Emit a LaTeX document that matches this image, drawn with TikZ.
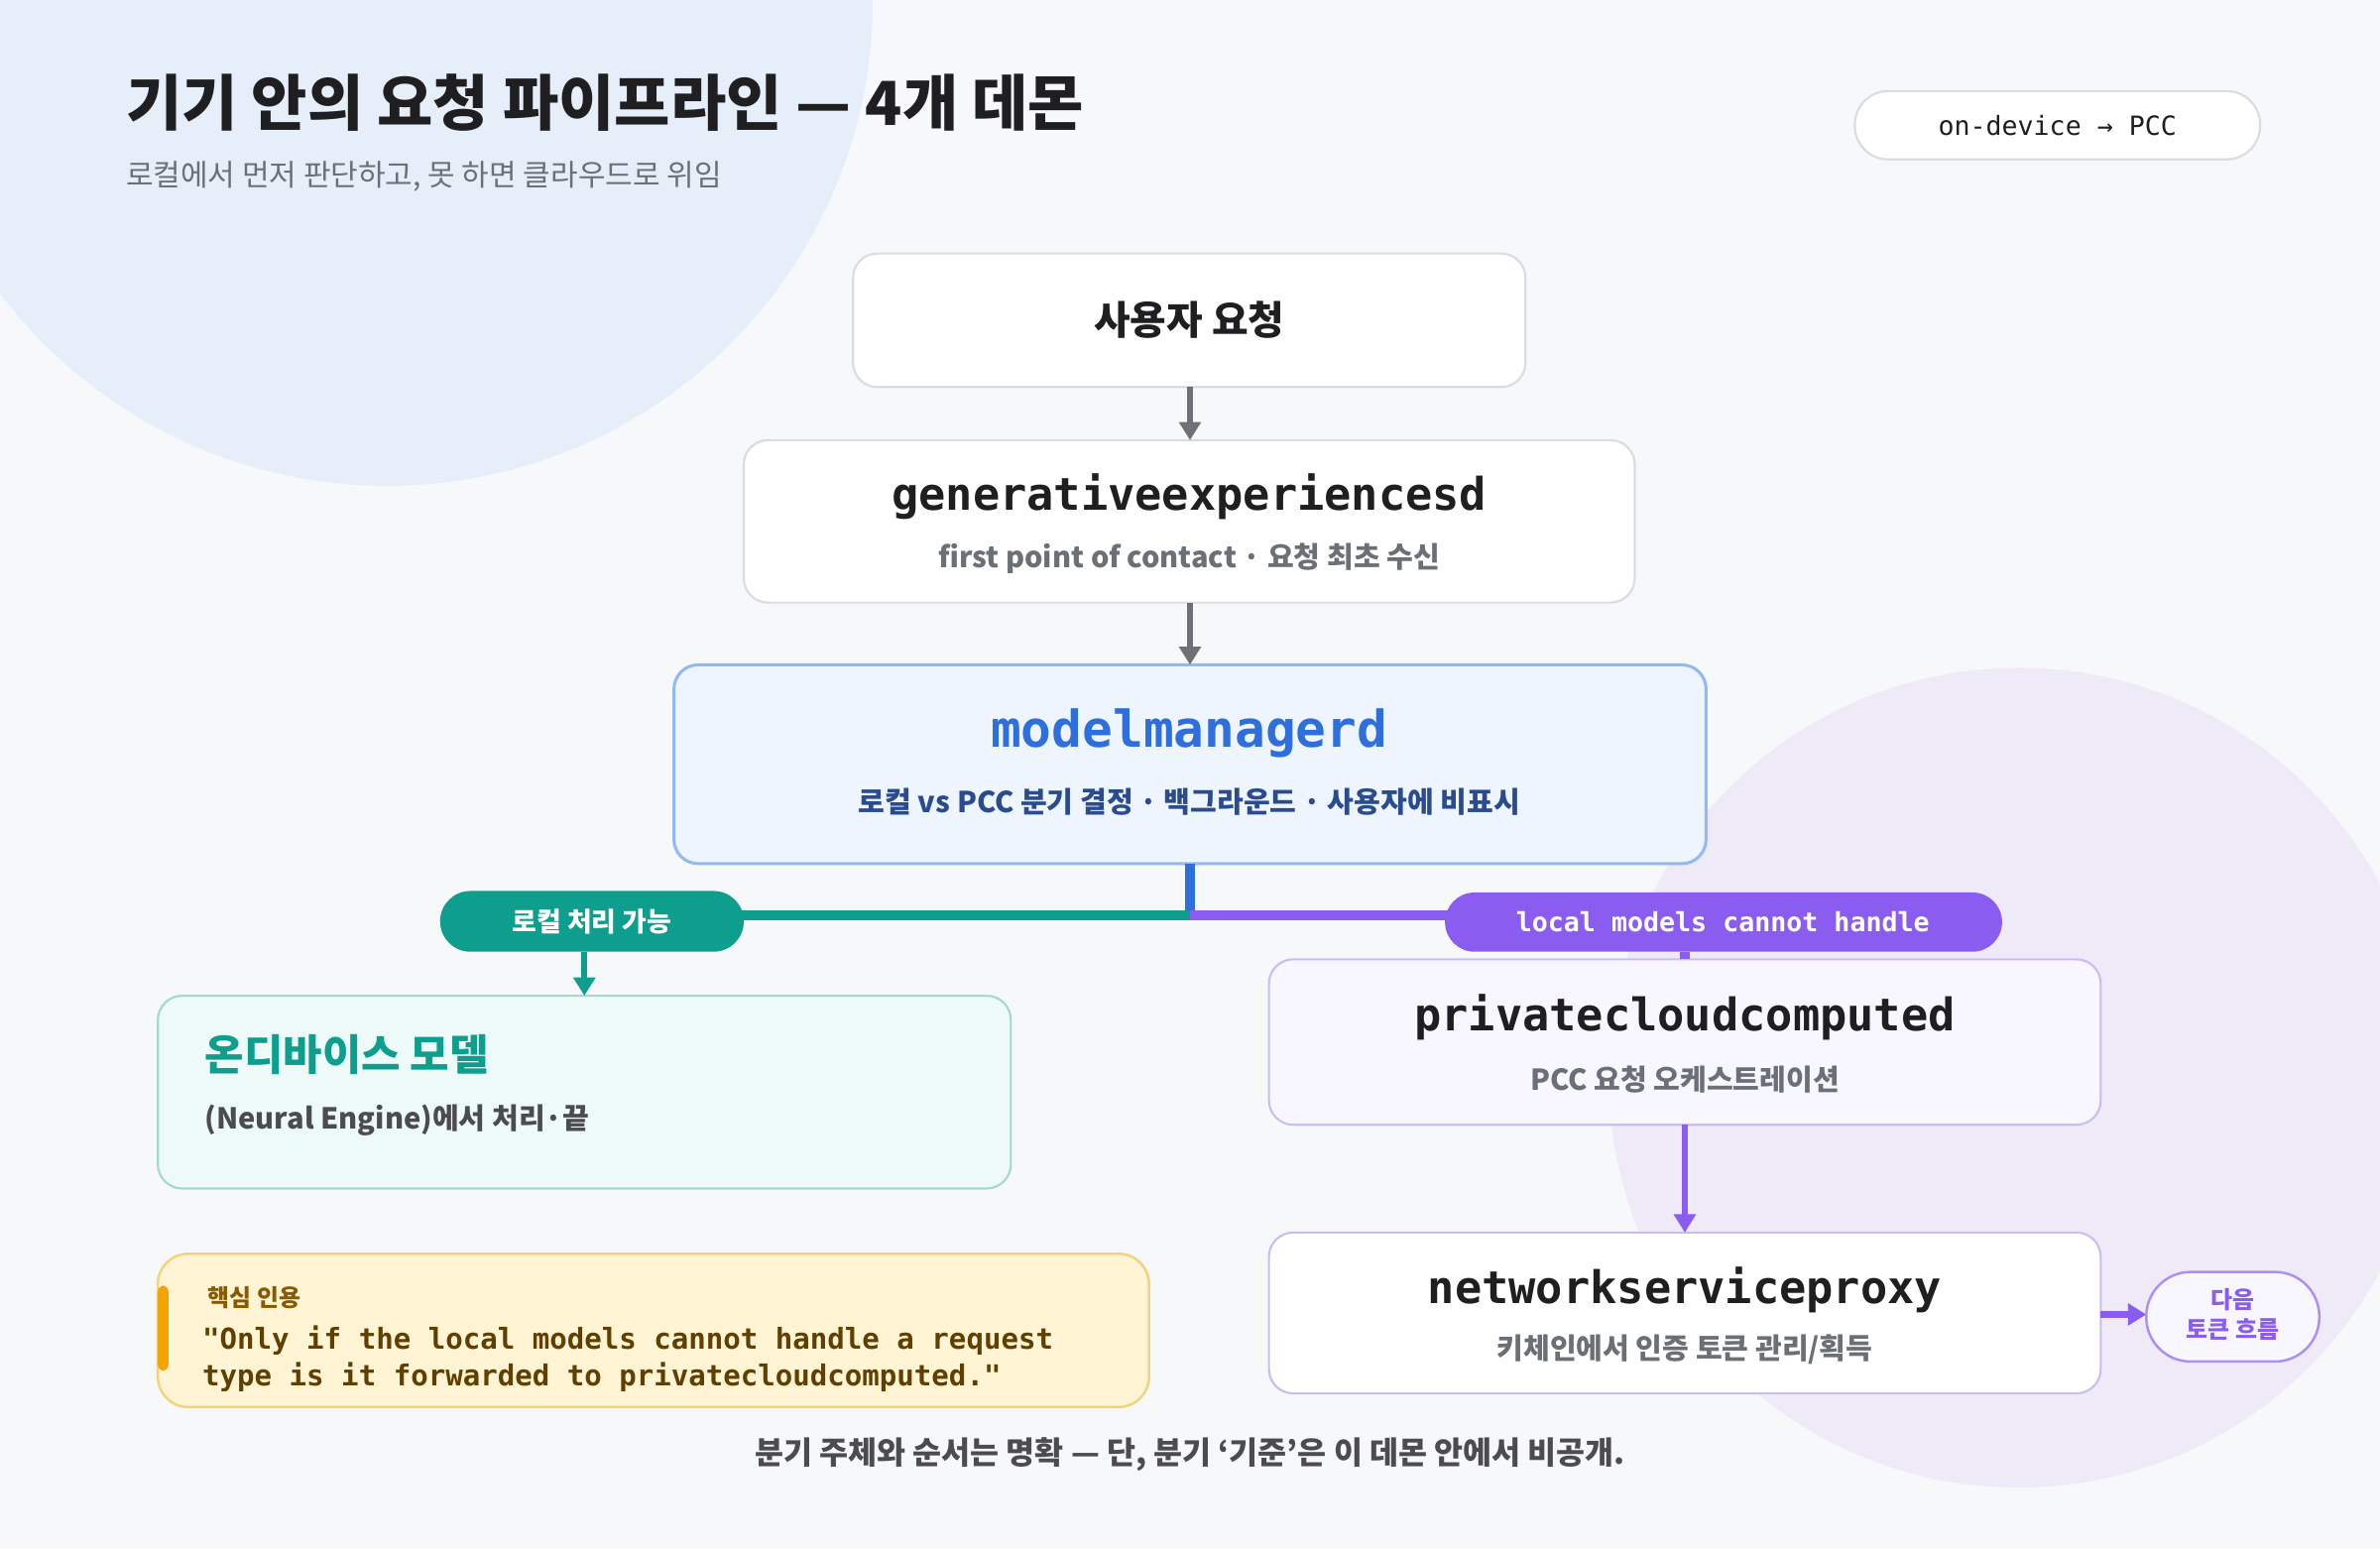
\documentclass[tikz,border=0pt]{standalone}
\usepackage{fontspec}
\setmainfont{Noto Sans CJK KR}
\newfontfamily\mono{DejaVu Sans Mono}
\usetikzlibrary{arrows.meta}
\definecolor{bg}{HTML}{F7F8FA}
\definecolor{blobA}{HTML}{E6EEF9}
\definecolor{blobB}{HTML}{EEEAF8}
\definecolor{ink}{HTML}{1F1F22}
\definecolor{muted}{HTML}{6B6F76}
\definecolor{line}{HTML}{D9DCE1}
\definecolor{blue}{HTML}{2F6FDB}
\definecolor{bluefill}{HTML}{EEF5FF}
\definecolor{blueedge}{HTML}{93B9F5}
\definecolor{bluetxt}{HTML}{2A4C8E}
\definecolor{teal}{HTML}{0E9E8E}
\definecolor{tealfill}{HTML}{EEFAF7}
\definecolor{tealedge}{HTML}{A3D9CF}
\definecolor{purple}{HTML}{8B5CF0}
\definecolor{purfill}{HTML}{F8F6FF}
\definecolor{puredge}{HTML}{CBBDF3}
\definecolor{qfill}{HTML}{FFF5D4}
\definecolor{qedge}{HTML}{F2D27A}
\definecolor{qbar}{HTML}{F5A300}
\definecolor{qtxt}{HTML}{8A5A00}
\definecolor{arrowgray}{HTML}{6E7177}
\tikzset{
  box/.style={draw=line, fill=white, rounded corners=8pt, line width=0.7pt},
  mtitle/.style={font=\mono\bfseries\fontsize{14.8}{17}\selectfont, text=ink},
  sub/.style={font=\bfseries\fontsize{9.5}{12}\selectfont, text=muted},
  arr/.style={line width=2pt, -{Triangle[length=6pt,width=7pt]}},
}
\begin{document}
\begin{tikzpicture}[x=0.5pt,y=-0.5pt]
\useasboundingbox (0,0) rectangle (1568,1020);
\fill[bg] (0,0) rectangle (1568,1020);
\begin{scope}
\clip (0,0) rectangle (1568,1020);
\fill[blobA] (255,0) circle (160pt);
\fill[blobB] (1330,710) circle (135pt);
\end{scope}
% title
\node[anchor=west, font=\bfseries\fontsize{20}{24}\selectfont, text=ink] (title) at (76,68) {기기 안의 요청 파이프라인 — 4개 데몬};
\node[anchor=west, font=\fontsize{9.8}{11}\selectfont, text=muted] (subt) at (76,116) {로컬에서 먼저 판단하고, 못 하면 클라우드로 위임};
\draw[line, fill=white, rounded corners=11pt, line width=0.7pt] (1222,60) rectangle (1489,105);
\node[font=\mono\fontsize{8.7}{10}\selectfont, text=ink] (tag) at (1355.5,82.5) {on-device → PCC};
% boxes
\draw[box] (562,167) rectangle (1005,255);
\node[font=\bfseries\fontsize{13}{15}\selectfont, text=ink] (user) at (783.5,211) {사용자 요청};
\draw[box] (490,290) rectangle (1077,397);
\node[mtitle] (gen) at (783.5,327) {generativeexperiencesd};
\node[sub] (gens) at (783.5,368) {first point of contact · 요청 최초 수신};
\draw[box, draw=blueedge, fill=bluefill, line width=1pt] (444,438) rectangle (1124,569);
\node[font=\mono\bfseries\fontsize{16.7}{19}\selectfont, text=blue] (mm) at (783.5,483) {modelmanagerd};
\node[font=\bfseries\fontsize{9.5}{12}\selectfont, text=bluetxt] (mms) at (783.5,528) {로컬 vs PCC 분기 결정 · 백그라운드 · 사용자에 비표시};
\draw[box, draw=tealedge, fill=tealfill] (104,656) rectangle (666,783);
\node[anchor=west, font=\bfseries\fontsize{14}{16}\selectfont, text=teal] (od) at (128,695) {온디바이스 모델};
\node[anchor=west, font=\bfseries\fontsize{9.5}{12}\selectfont, text=ink!80] (ods) at (128,738) {(Neural Engine)에서 처리·끝};
\draw[box, draw=puredge, fill=purfill] (836,632) rectangle (1384,741);
\node[mtitle] (pcc) at (1110,670) {privatecloudcomputed};
\node[sub] (pccs) at (1110,711) {PCC 요청 오케스트레이션};
\draw[box, draw=puredge] (836,812) rectangle (1384,918);
\node[mtitle] (nsp) at (1110,850) {networkserviceproxy};
\node[sub] (nsps) at (1110,889) {키체인에서 인증 토큰 관리/획득};
% arrows top
\draw[arr, arrowgray] (784,255) -- (784,290);
\draw[arr, arrowgray] (784,397) -- (784,438);
% branches
\draw[blue, line width=3.5pt] (784,569) -- (784,604);
\draw[teal, line width=3.5pt] (784,603) -- (480,603);
\draw[purple, line width=3.5pt] (784,603) -- (960,603);
\fill[teal, rounded corners=9.9pt] (290,587) rectangle (490,627);
\node[font=\bfseries\fontsize{8.8}{10}\selectfont, text=white] (lp) at (390,607) {로컬 처리 가능};
\fill[purple, rounded corners=9.7pt] (952,588) rectangle (1319,627);
\node[font=\mono\bfseries\fontsize{8.7}{10}\selectfont, text=white] (rp) at (1135,607) {local models cannot handle};
\draw[arr, teal] (385,627) -- (385,656);
\draw[purple, line width=3.5pt] (1110,627) -- (1110,632);
\draw[arr, purple] (1110,741) -- (1110,812);
\draw[arr, purple] (1384,866) -- (1414,866);
\draw[draw=purple!70, fill=purfill, rounded corners=14.6pt, line width=0.8pt] (1414,838) rectangle (1528,897);
\node[font=\bfseries\fontsize{7.8}{10}\selectfont, text=purple, align=center] (nx) at (1471,866) {다음\\토큰 흐름};
% quote
\draw[draw=qedge, fill=qfill, rounded corners=10pt, line width=0.8pt] (104,826) rectangle (757,927);
\fill[qbar, rounded corners=2pt] (104,847) rectangle (111,903);
\node[anchor=west, font=\bfseries\fontsize{7.8}{10}\selectfont, text=qtxt] (qh) at (130,855) {핵심 인용};
\node[anchor=north west, font=\mono\bfseries\fontsize{9.5}{12}\selectfont, text=qtxt!70!black, align=left, inner sep=0pt] (qt) at (133,873) {"Only if the local models cannot handle a request\\type is it forwarded to privatecloudcomputed."};
% footer
\node[font=\bfseries\fontsize{10.3}{12}\selectfont, text=ink!80] (ft) at (784,958) {분기 주체와 순서는 명확 — 단, 분기 ‘기준’은 이 데몬 안에서 비공개.};
\end{tikzpicture}
\end{document}
